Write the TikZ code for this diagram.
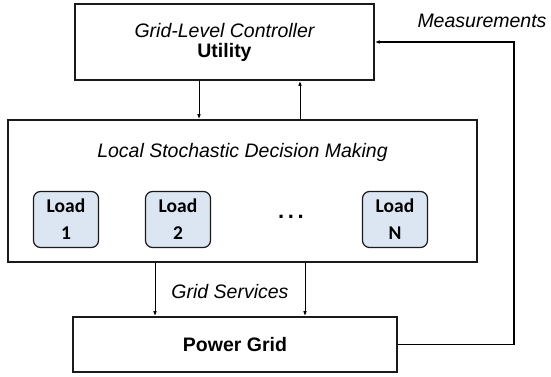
\documentclass[tikz,border=0pt]{standalone}
\usepackage{fontspec}
\setmainfont{Liberation Sans}
\newfontfamily\loadfont{Carlito}
\usetikzlibrary{arrows.meta}
\definecolor{boxline}{HTML}{1A1A1A}
\definecolor{loadfill}{HTML}{DCE6F2}

\begin{document}
\begin{tikzpicture}[x=1pt, y=-1pt, >={Latex[length=5pt,width=3.6pt]},
    font=\fontsize{19.5}{22}\selectfont,
    block/.style={draw=boxline, line width=1.6pt, align=center, inner sep=0pt},
    loadbox/.style={draw=boxline, fill=loadfill, line width=1.2pt, rounded corners=7pt,
      minimum width=65pt, minimum height=56pt, align=center, inner sep=0pt,
      font=\loadfont\bfseries\fontsize{19.5}{22}\selectfont},
    link/.style={->, line width=1pt}]
  \useasboundingbox (0,0) rectangle (551,377);

  \node[block, minimum width=299pt, minimum height=76pt] (ctrl) at (224.5,42)
    {\itshape Grid-Level Controller\\[-2pt] \bfseries Utility};
  \node[block, minimum width=469pt, minimum height=142pt] (local) at (242.5,191) {};
  \node (title) at (242.5,152) {\itshape Local Stochastic Decision Making};
  \node[loadbox] (load1) at (66,219.5) {Load\\[5pt]1};
  \node[loadbox] (load2) at (178,219.5) {Load\\[5pt]2};
  \node[font=\bfseries\fontsize{22}{24}\selectfont] (dots) at (291,217) {.\,.\,.};
  \node[loadbox] (loadN) at (395,219.5) {Load\\[5pt]N};
  \node[block, minimum width=324pt, minimum height=55pt, font=\bfseries\fontsize{19.5}{22}\selectfont]
    (grid) at (235,344.5) {Power Grid};

  % controller <-> local decisions
  \draw[link] ([xshift=-25.5pt]ctrl.south) -- ([xshift=-25.5pt]ctrl.south |- local.north);
  \draw[link] ([xshift=75.5pt]ctrl.south |- local.north) -- ([xshift=75.5pt]ctrl.south);

  % grid services
  \draw[link] ([xshift=-80pt]grid.north |- local.south) -- ([xshift=-80pt]grid.north);
  \draw[link] ([xshift=70pt]grid.north |- local.south) -- ([xshift=70pt]grid.north);
  \node (services) at (230,292) {\itshape Grid Services};

  % measurements feedback
  \coordinate (fb) at (514,42);
  \draw[link, line width=1.3pt] (grid.east) -| (fb) -- (ctrl.east);
  \node[anchor=east] (meas) at (550,21) {\itshape Measurements};
\end{tikzpicture}
\end{document}
